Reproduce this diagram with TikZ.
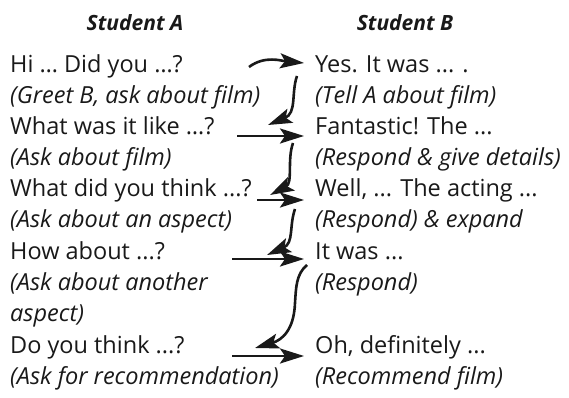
\documentclass[tikz,border=0pt]{standalone}
\usepackage{fontspec}
\setmainfont{Open Sans}
\usetikzlibrary{arrows.meta}
\tikzset{
  txt/.style={anchor=base west,inner sep=0pt,font=\fontsize{23.5}{28}\selectfont,text=black!90},
  itx/.style={txt,font=\fontsize{23.5}{28}\selectfont\itshape},
  head/.style={anchor=base,inner sep=0pt,font=\fontsize{21}{25}\selectfont\bfseries\itshape,text=black!90},
  conn/.style={draw=black!90,line width=2.6pt,arrows={-Stealth[length=24pt,width=15pt,inset=5pt]}}
}
\begin{document}
\begin{tikzpicture}[x=1pt,y=1pt]
\useasboundingbox (0,0) rectangle (569,398);
\node[head] (ha) at (135,367) {Student A};
\node[head] (hb) at (405,367) {Student B};
\node[txt] (a1) at (10,325) {Hi … Did you …?};
\node[itx] (a1n) at (10,294) {(Greet B, ask about film)};
\node[txt] (a2) at (10,263) {What was it like …?};
\node[itx] (a2n) at (10,232) {(Ask about film)};
\node[txt] (a3) at (10,201) {What did you think ...?};
\node[itx] (a3n) at (10,170) {(Ask about an aspect)};
\node[txt] (a4) at (10,138) {How about ...?};
\node[itx] (a4n) at (10,107) {(Ask about another};
\node[itx] (a4m) at (10,76) {aspect)};
\node[txt] (a5) at (10,44) {Do you think ...?};
\node[itx] (a5n) at (10,13) {(Ask for recommendation)};
\node[txt] (b1) at (315,325) {Yes. It was ... .};
\node[itx] (b1n) at (315,294) {(Tell A about film)};
\node[txt] (b2) at (315,263) {Fantastic! The ...};
\node[itx] (b2n) at (315,232) {(Respond \& give details)};
\node[txt] (b3) at (315,201) {Well, ... The acting ...};
\node[itx] (b3n) at (315,170) {(Respond) \& expand};
\node[txt] (b4) at (315,138) {It was ...};
\node[itx] (b4n) at (315,107) {(Respond)};
\node[txt] (b5) at (315,44) {Oh, definitely ...};
\node[itx] (b5n) at (315,13) {(Recommend film)};
\coordinate (h1s) at (249,331); \coordinate (h1e) at (304,335);
\coordinate (h2s) at (237,262); \coordinate (h2e) at (304,262);
\coordinate (h3s) at (257,198); \coordinate (h3e) at (304,198);
\coordinate (h4s) at (232,139); \coordinate (h4e) at (304,139);
\coordinate (h5s) at (232,42);  \coordinate (h5e) at (304,42);
\coordinate (c1s) at (297,322); \coordinate (c1e) at (268,273);
\coordinate (c2s) at (293,255); \coordinate (c2e) at (270,203);
\coordinate (c3s) at (295,189); \coordinate (c3e) at (267,143);
\coordinate (c4s) at (307,133); \coordinate (c4e) at (255,50);
\draw[conn] (h1s) .. controls (265,343) and (282,337) .. (h1e);
\draw[conn] (h2s) -- (h2e);
\draw[conn] (h3s) -- (h3e);
\draw[conn] (h4s) -- (h4e);
\draw[conn] (h5s) -- (h5e);
\draw[conn] (c1s) .. controls (291,305) and (297,285) .. (c1e);
\draw[conn] (c2s) .. controls (287,238) and (293,215) .. (c2e);
\draw[conn] (c3s) .. controls (289,172) and (294,155) .. (c3e);
\draw[conn] (c4s) .. controls (296,124) and (296,110) .. (295,95)
                 .. controls (294,68) and (282,58) .. (c4e);
\end{tikzpicture}
\end{document}
